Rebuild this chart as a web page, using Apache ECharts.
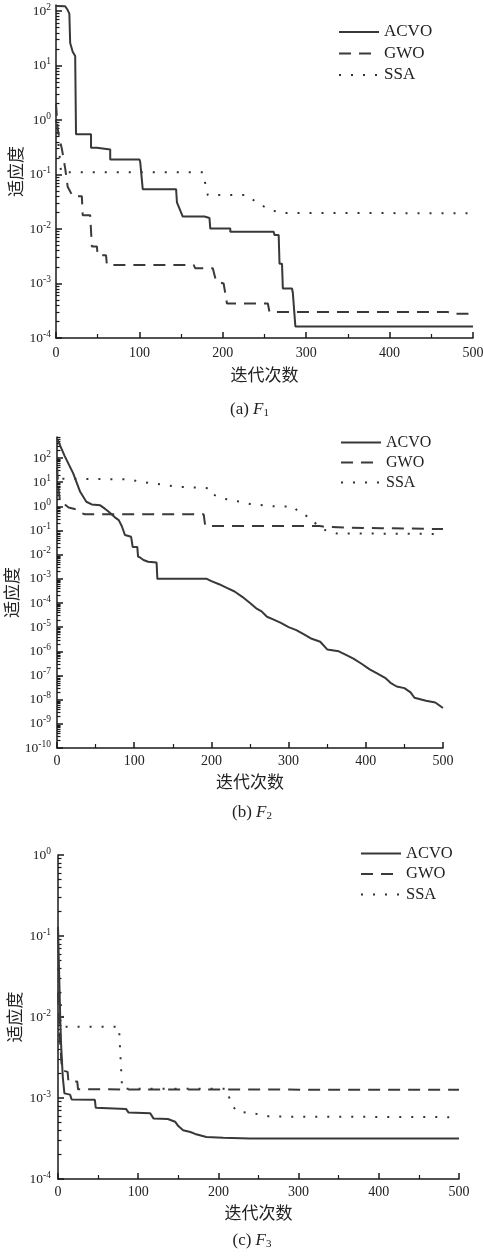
<!DOCTYPE html>
<html><head><meta charset="utf-8">
<script src="https://cdn.jsdelivr.net/npm/echarts@6/dist/echarts.min.js"></script>
<style>html,body{margin:0;padding:0;background:#fff}#c{width:483px;height:1256px}</style>
</head><body><div id="c"></div>
<script>
// ---------- data ----------
const seriesNames = ['ACVO', 'GWO', 'SSA'];
const xAxisName = '迭代次数';
const yAxisName = '适应度';
const xTicks = [0, 100, 200, 300, 400, 500];
const captions = ['(a) {i|F}{s|1}', '(b) {i|F}{s|2}', '(c) {i|F}{s|3}'];

// F1
const f1YTicks = [1e-4, 1e-3, 1e-2, 1e-1, 1, 10, 100];
const f1AcvoIter = [0,11,14,16,17,20,23,24,42,42,49,49,65,65,100,101,103,104,144,145,147,152,178,179,184,185,209,209,261,262,267,268,271,272,283,284,286,287,500];
const f1AcvoFit  = [125,123,105,90,26,18,15,0.55,0.55,0.31,0.31,0.29,0.29,0.19,0.19,0.17,0.17,0.054,0.054,0.031,0.031,0.017,0.017,0.016,0.016,0.0102,0.0102,0.0089,0.0089,0.0078,0.0078,0.0023,0.0023,0.00081,0.00081,0.00067,0.00067,0.000163,0.000163];
const f1GwoIter = [0,1,2,5,7,9,11,14,20,31,32,41,43,49,50,60,61,165,167,188,192,201,205,254,256,470,473,500];
const f1GwoFit  = [2.0,1.2,0.7,0.4,0.3,0.2,0.13,0.06,0.04,0.04,0.018,0.018,0.0048,0.0048,0.0033,0.0033,0.0022,0.0022,0.0019,0.0019,0.0011,0.001,0.00043,0.00043,0.0003,0.0003,0.00028,0.00028];
const f1SsaIter = [0,2,4,6,176,182,229,239,249,259,271,500];
const f1SsaFit  = [1.0,0.5,0.25,0.111,0.111,0.042,0.042,0.032,0.026,0.022,0.0198,0.0195];

// F2
const f2YTicks = [1e-10,1e-9,1e-8,1e-7,1e-6,1e-5,1e-4,1e-3,1e-2,1e-1,1,10,100];
const f2AcvoIter = [0,10,21,30,34,38,45,56,62,67,75,80,84,88,96,98,104,105,108,112,118,129,130,194,200,210,220,230,240,250,258,265,272,280,290,300,310,320,330,341,350,365,375,384,395,405,414,425,432,440,450,458,463,465,478,490,500];
const f2AcvoFit  = [650,120,23,4,2.5,1.55,1.2,1.1,0.8,0.6,0.35,0.27,0.15,0.065,0.055,0.021,0.021,0.0083,0.0075,0.006,0.0051,0.0047,0.001,0.001,0.0008,0.0006,0.00042,0.0003,0.00018,0.0001,6e-5,4.5e-5,2.7e-5,2.1e-5,1.5e-5,1.0e-5,7.5e-6,5e-6,3.3e-6,2.5e-6,1.2e-6,1e-6,7e-7,5e-7,3e-7,1.8e-7,1.25e-7,8e-8,5e-8,3.5e-8,3e-8,2e-8,1.2e-8,1e-8,9e-9,7.6e-9,4.5e-9];
const f2GwoIter = [0,2,4,10,15,25,30,36,190,192,340,345,380,420,460,500];
const f2GwoFit  = [40,5,1.5,1.2,0.9,0.75,0.55,0.47,0.47,0.155,0.155,0.145,0.13,0.125,0.12,0.115];
const f2SsaIter = [0,2,4,95,104,155,198,203,215,237,250,280,306,315,328,336,347,362,500];
const f2SsaFit  = [30,14,13,13,11,6.5,5.6,3,2.1,1.55,1.25,1.0,0.98,0.51,0.35,0.18,0.105,0.076,0.072];

// F3
const f3YTicks = [1e-4, 1e-3, 1e-2, 1e-1, 1];
const f3AcvoIter = [0,1,2,3,4,6,8,15,17,46,47,85,88,115,119,137,146,150,156,165,171,185,206,239,500];
const f3AcvoFit  = [0.13,0.05,0.02,0.008,0.0043,0.0018,0.00114,0.0011,0.00096,0.00095,0.00076,0.00073,0.00066,0.00065,0.00056,0.00055,0.00051,0.00045,0.0004,0.00038,0.00036,0.00033,0.000322,0.000317,0.000317];
const f3GwoIter = [0,2,5,12,13,24,25,500];
const f3GwoFit  = [0.02,0.006,0.0022,0.0021,0.0016,0.0016,0.00128,0.00126];
const f3SsaIter = [0,3,8,76,80,210,216,223,235,250,264,500];
const f3SsaFit  = [0.04,0.015,0.0076,0.0076,0.0013,0.0013,0.00085,0.00068,0.00066,0.00063,0.00059,0.00058];

// ---------- layout / style ----------
const SERIF = '"Liberation Serif","DejaVu Serif",serif';
const CJK = '"Noto Sans CJK SC","Noto Sans CJK JP",sans-serif';
const TXT = '#222';
const AXC = '#1a1a1a';
const lineStyles = [
  {color: '#383838', width: 2, type: 'solid'},
  {color: '#3a3a3a', width: 2, type: [12, 8]},
  {color: '#333333', width: 2, type: [2, 10]}
];
const panels = [
  {grid: {left: 56, top: 5, width: 417, height: 333}, yMin: 1e-4, yMax: 130, yTicks: f1YTicks,
   data: [[f1AcvoIter, f1AcvoFit], [f1GwoIter, f1GwoFit], [f1SsaIter, f1SsaFit]],
   legend: {left: 338, top: 23.5, gap: 4.5, fs: 17, lh: 17}, cap: {x: 249.5, y: 400},
   xLabelMargin: 8, xNameGap: 28, yNameGap: 32, yLabelMargin: 5},
  {grid: {left: 57, top: 437, width: 386, height: 311}, yMin: 1e-10, yMax: 740, yTicks: f2YTicks,
   data: [[f2AcvoIter, f2AcvoFit], [f2GwoIter, f2GwoFit], [f2SsaIter, f2SsaFit]],
   legend: {left: 340, top: 434, gap: 3, fs: 16, lh: 17}, cap: {x: 252, y: 803},
   xLabelMargin: 6, xNameGap: 25.5, yNameGap: 36.5, yLabelMargin: 6},
  {grid: {left: 58, top: 855, width: 401, height: 324}, yMin: 1e-4, yMax: 1, yTicks: f3YTicks,
   data: [[f3AcvoIter, f3AcvoFit], [f3GwoIter, f3GwoFit], [f3SsaIter, f3SsaFit]],
   legend: {left: 360, top: 845, gap: 3.5, fs: 16.5, lh: 17}, cap: {x: 252, y: 1231},
   xLabelMargin: 6, xNameGap: 25.5, yNameGap: 34.5, yLabelMargin: 7}
];

function minorLogTicks(min, max) {
  const out = [];
  for (let d = Math.floor(Math.log10(min)); d <= Math.ceil(Math.log10(max)); d++) {
    for (let k = 2; k <= 9; k++) {
      const v = k * Math.pow(10, d);
      if (v > min && v < max) out.push(v);
    }
  }
  return out;
}
function zip(xs, ys) { return xs.map((x, i) => [x, ys[i]]); }

const option = {animation: false, backgroundColor: '#fff', grid: [], xAxis: [], yAxis: [], series: [], legend: [], title: []};

panels.forEach((p, i) => {
  option.grid.push(Object.assign({outerBoundsMode: 'none', containLabel: false}, p.grid));
  option.xAxis.push({
    type: 'value', gridIndex: i, min: 0, max: 500, interval: 100,
    name: xAxisName, nameLocation: 'middle', nameGap: p.xNameGap, nameMoveOverlap: false,
    nameTextStyle: {fontFamily: CJK, fontSize: 17, color: TXT},
    axisLine: {show: true, onZero: false, lineStyle: {color: AXC, width: 1.5}},
    axisTick: {show: true, inside: true, length: 6, lineStyle: {color: AXC, width: 1.5}},
    minorTick: {show: true, splitNumber: 2, length: 4, lineStyle: {color: AXC, width: 1.2}},
    splitLine: {show: false},
    axisLabel: {margin: p.xLabelMargin, fontFamily: SERIF, fontSize: 14, color: TXT,
      customValues: xTicks}
  });
  option.yAxis.push({
    type: 'log', logBase: 10, gridIndex: i, min: p.yMin, max: p.yMax, position: 'left',
    name: yAxisName, nameLocation: 'middle', nameGap: p.yNameGap, nameRotate: 90, nameMoveOverlap: false,
    nameTextStyle: {fontFamily: CJK, fontSize: 17, color: TXT},
    axisLine: {show: true, onZero: false, lineStyle: {color: AXC, width: 1.5}},
    axisTick: {show: true, inside: true, length: 6, lineStyle: {color: AXC, width: 1.5}, customValues: p.yTicks},
    splitLine: {show: false},
    axisLabel: {
      margin: p.yLabelMargin, customValues: p.yTicks,
      formatter: v => '{b|10}{s|' + Math.round(Math.log10(v)) + '}',
      rich: {
        b: {fontFamily: SERIF, fontSize: 13.5, color: TXT},
        s: {fontFamily: SERIF, fontSize: 9.5, color: TXT, padding: [0, 0, 8, 0]}
      }
    }
  });
  option.yAxis.push({
    type: 'log', logBase: 10, gridIndex: i, min: p.yMin, max: p.yMax, position: 'left',
    axisLine: {show: false},
    axisTick: {show: true, inside: true, length: 3.5, lineStyle: {color: AXC, width: 1.2},
      customValues: minorLogTicks(p.yMin, p.yMax)},
    axisLabel: {show: false}, splitLine: {show: false}
  });
  p.data.forEach((d, k) => {
    option.series.push({
      type: 'line', name: seriesNames[k], xAxisIndex: i, yAxisIndex: 2 * i,
      data: zip(d[0], d[1]), symbol: 'none', showSymbol: false, silent: true,
      lineStyle: lineStyles[k], itemStyle: {color: lineStyles[k].color}, z: 3 - k
    });
  });
  option.legend.push({
    orient: 'vertical', left: p.legend.left, top: p.legend.top, padding: 0,
    itemWidth: 40, itemHeight: 12, itemGap: p.legend.gap, selectedMode: false,
    itemStyle: {color: 'transparent', borderColor: 'transparent', borderWidth: 0, opacity: 0},
    textStyle: {fontFamily: SERIF, fontSize: p.legend.fs, color: TXT, lineHeight: p.legend.lh},
    data: seriesNames
  });
  option.title.push({
    text: captions[i], left: p.cap.x, top: p.cap.y, textAlign: 'center', padding: 0,
    textStyle: {
      fontFamily: SERIF, fontSize: 17, fontWeight: 'normal', color: TXT,
      rich: {
        i: {fontFamily: SERIF, fontSize: 17, fontStyle: 'italic', color: TXT},
        s: {fontFamily: SERIF, fontSize: 11, color: TXT, padding: [8, 0, 0, 0]}
      }
    }
  });
});

const chart = echarts.init(document.getElementById('c'), null, {renderer: 'canvas'});
chart.setOption(option);
</script>
</body></html>
